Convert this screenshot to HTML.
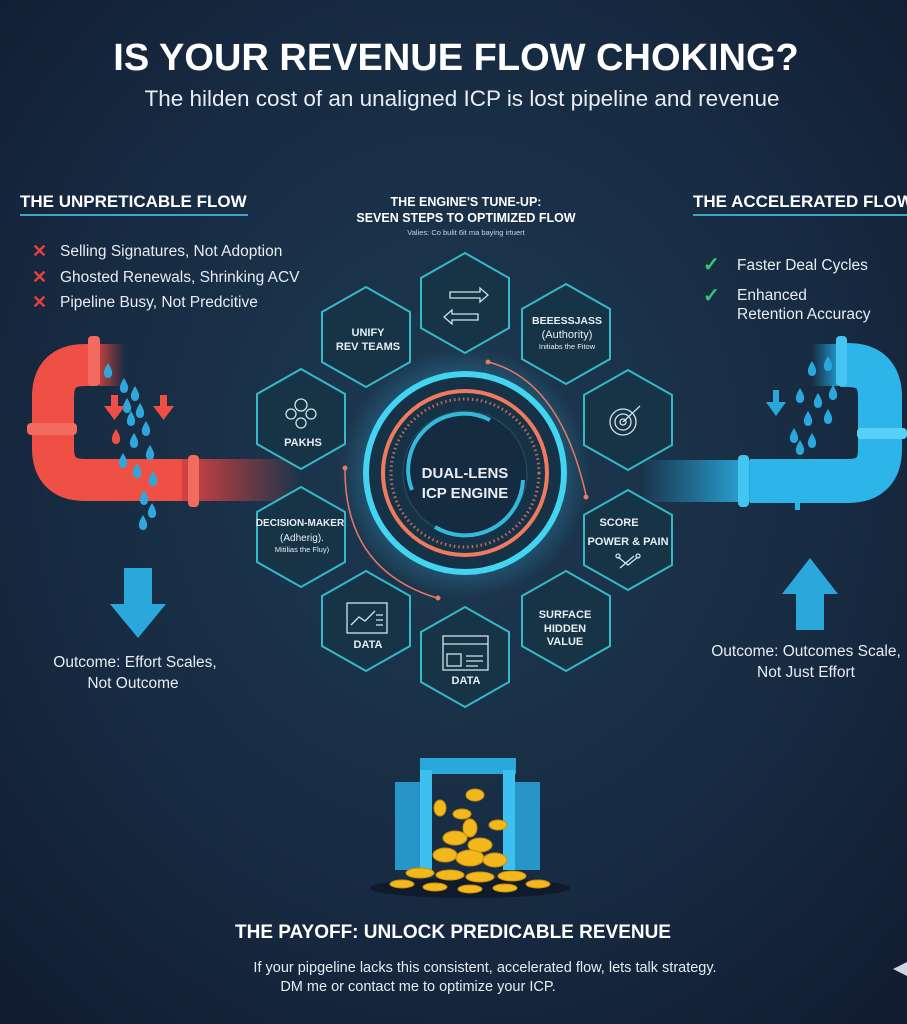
<!DOCTYPE html>
<html><head><meta charset="utf-8"><style>
html,body{margin:0;padding:0;background:#15233a;}
svg{display:block}
text{font-family:"Liberation Sans",sans-serif}
</style></head><body>
<svg width="907" height="1024" viewBox="0 0 907 1024" xmlns="http://www.w3.org/2000/svg">
<defs>
<radialGradient id="bg" cx="50%" cy="45%" r="70%">
<stop offset="0" stop-color="#1d3a52"/><stop offset="0.6" stop-color="#172b42"/><stop offset="1" stop-color="#121d33"/>
</radialGradient>
<linearGradient id="redfade" gradientUnits="userSpaceOnUse" x1="180" x2="300" y1="0" y2="0"><stop offset="0" stop-color="#d9433f"/><stop offset="1" stop-color="#d9433f" stop-opacity="0"/></linearGradient>
<linearGradient id="bluefade" gradientUnits="userSpaceOnUse" x1="750" x2="640" y1="0" y2="0"><stop offset="0" stop-color="#2aa8dc"/><stop offset="1" stop-color="#2aa8dc" stop-opacity="0"/></linearGradient>
<linearGradient id="redtip" gradientUnits="userSpaceOnUse" x1="100" x2="125" y1="0" y2="0"><stop offset="0" stop-color="#b8403c"/><stop offset="1" stop-color="#b8403c" stop-opacity="0"/></linearGradient>
<linearGradient id="bluetip" gradientUnits="userSpaceOnUse" x1="836" x2="812" y1="0" y2="0"><stop offset="0" stop-color="#1f8fc0"/><stop offset="1" stop-color="#1f8fc0" stop-opacity="0"/></linearGradient>
<radialGradient id="glow" cx="50%" cy="50%" r="50%"><stop offset="0.6" stop-color="#3fd0ff" stop-opacity="0.35"/><stop offset="1" stop-color="#3fd0ff" stop-opacity="0"/></radialGradient>
<g id="hex"><polygon points="0,-50 44,-25 44,25 0,50 -44,25 -44,-25" fill="#173447" stroke="#35b9c9" stroke-width="2"/></g>
<path id="drop" d="M0,-7 Q5,1 4,4 A4,4 0 0 1 -4,4 Q-5,1 0,-7z"/>
</defs>
<rect width="907" height="1024" fill="url(#bg)"/>

<text x="456" y="70" font-size="38" font-weight="bold" fill="#fff" text-anchor="middle">IS YOUR REVENUE FLOW CHOKING?</text>
<text x="462" y="106" font-size="22.5" fill="#e6edf3" text-anchor="middle">The hilden cost of an unaligned ICP is lost pipeline and revenue</text>

<text x="20" y="207" font-size="17" font-weight="bold" fill="#fff">THE UNPRETICABLE FLOW</text>
<rect x="20" y="214" width="228" height="2" fill="#3fa6c4"/>
<g font-size="15.5" fill="#e6edf3">
<text x="60" y="256">Selling Signatures, Not Adoption</text>
<text x="60" y="282">Ghosted Renewals, Shrinking ACV</text>
<text x="60" y="307">Pipeline Busy, Not Predcitive</text></g>
<g fill="#e8403c" font-size="18" font-weight="bold"><text x="32" y="257">✕</text><text x="32" y="283">✕</text><text x="32" y="308">✕</text></g>

<text x="693" y="207" font-size="17" font-weight="bold" fill="#fff">THE ACCELERATED FLOW</text>
<rect x="693" y="214" width="214" height="2" fill="#3fa6c4"/>
<g fill="#3ec46d" font-size="20" font-weight="bold"><text x="703" y="271">✓</text><text x="703" y="302">✓</text></g>
<g font-size="15.5" fill="#e6edf3"><text x="737" y="270">Faster Deal Cycles</text><text x="737" y="300">Enhanced</text><text x="737" y="319">Retention Accuracy</text></g>

<text x="466" y="206" font-size="12.5" font-weight="bold" fill="#fff" text-anchor="middle">THE ENGINE'S TUNE-UP:</text>
<text x="466" y="222" font-size="12.5" font-weight="bold" fill="#fff" text-anchor="middle">SEVEN STEPS TO OPTIMIZED FLOW</text>
<text x="466" y="235" font-size="7.5" fill="#c9d3dc" text-anchor="middle">Valies: Co bulit 6it ma baying irtuert</text>

<!-- red pipe -->
<rect x="180" y="459" width="120" height="42" fill="url(#redfade)"/>
<rect x="99" y="344" width="26" height="42" fill="url(#redtip)"/>
<path d="M96,365 L85,365 Q53,365 53,397 L53,448 Q53,480 85,480 L182,480" fill="none" stroke="#ef5046" stroke-width="42"/>
<rect x="27" y="423" width="50" height="12" rx="4" fill="#f26b5e"/>
<rect x="88" y="336" width="12" height="50" rx="4" fill="#f26b5e"/>
<rect x="188" y="455" width="11" height="52" rx="4" fill="#f26b5e"/>
<g fill="#2fa7dc">
<use href="#drop" x="108" y="370"/><use href="#drop" x="124" y="385"/><use href="#drop" x="135" y="393"/>
<use href="#drop" x="127" y="405"/><use href="#drop" x="140" y="410"/><use href="#drop" x="131" y="418"/>
<use href="#drop" x="146" y="428"/><use href="#drop" x="134" y="440"/><use href="#drop" x="150" y="452"/>
<use href="#drop" x="123" y="460"/><use href="#drop" x="137" y="470"/><use href="#drop" x="153" y="478"/>
<use href="#drop" x="144" y="497"/><use href="#drop" x="152" y="510"/><use href="#drop" x="143" y="522"/>
</g>
<use href="#drop" x="116" y="436" fill="#ef5046"/>
<g fill="#ef5046"><rect x="111" y="395" width="7" height="12"/><polygon points="104,406 125,406 114.5,420"/><rect x="160" y="395" width="7" height="12"/><polygon points="153,406 174,406 163.5,420"/></g>

<!-- blue pipe -->
<rect x="640" y="460" width="112" height="42" fill="url(#bluefade)"/>
<rect x="812" y="344" width="26" height="42" fill="url(#bluetip)"/>
<path d="M750,481 L848,481 Q880,481 880,449 L880,397 Q880,365 848,365 L840,365" fill="none" stroke="#2db4e8" stroke-width="44"/>
<rect x="738" y="455" width="11" height="52" rx="4" fill="#45c6f2"/>
<rect x="836" y="336" width="11" height="50" rx="4" fill="#45c6f2"/>
<rect x="857" y="428" width="50" height="11" rx="4" fill="#58d0f5"/>
<rect x="795" y="500" width="5" height="10" fill="#2db4e8"/>
<g fill="#2aa8dc">
<use href="#drop" x="812" y="368"/><use href="#drop" x="828" y="363"/><use href="#drop" x="800" y="395"/>
<use href="#drop" x="818" y="400"/><use href="#drop" x="833" y="392"/><use href="#drop" x="808" y="418"/>
<use href="#drop" x="828" y="416"/><use href="#drop" x="794" y="435"/><use href="#drop" x="812" y="440"/>
<use href="#drop" x="800" y="447"/>
<rect x="773" y="390" width="6" height="12"/><polygon points="766,402 786,402 776,416"/></g>

<g fill="#2aa8dc"><rect x="124" y="568" width="28" height="38"/><polygon points="110,604 166,604 138,638"/>
<rect x="796" y="592" width="28" height="38"/><polygon points="782,594 838,594 810,558"/></g>
<g font-size="15.5" fill="#e6edf3" text-anchor="middle"><text x="135" y="667">Outcome: Effort Scales,</text><text x="133" y="688">Not Outcome</text>
<text x="806" y="656">Outcome: Outcomes Scale,</text><text x="806" y="677">Not Just Effort</text></g>

<circle cx="465" cy="473" r="125" fill="url(#glow)"/>
<circle cx="465" cy="473" r="99" fill="#163246" stroke="#43d4f2" stroke-width="6"/>
<circle cx="465" cy="473" r="82" fill="none" stroke="#f07a5e" stroke-width="4"/>
<circle cx="465" cy="473" r="74" fill="none" stroke="#c46a5c" stroke-width="3" stroke-dasharray="1.5 3"/>
<circle cx="465" cy="473" r="62" fill="#152c40" stroke="#2c4e66" stroke-width="1"/>
<path d="M412,490 A56,56 0 0 1 490,420" fill="none" stroke="#35b9d9" stroke-width="4"/>
<path d="M523,480 A58,58 0 0 1 435,527" fill="none" stroke="#35b9d9" stroke-width="4"/>
<text x="465" y="478" font-size="15" font-weight="bold" fill="#e8eef4" text-anchor="middle">DUAL-LENS</text>
<text x="465" y="498" font-size="15" font-weight="bold" fill="#e8eef4" text-anchor="middle">ICP ENGINE</text>
<path d="M488,362 Q560,380 586,495" fill="none" stroke="#e77a62" stroke-width="1.5"/>
<circle cx="488" cy="362" r="2.5" fill="#e77a62"/><circle cx="586" cy="497" r="2.5" fill="#e77a62"/>
<path d="M345,470 Q345,570 437,598" fill="none" stroke="#e77a62" stroke-width="1.5"/>
<circle cx="345" cy="468" r="2.5" fill="#e77a62"/><circle cx="438" cy="598" r="2.5" fill="#e77a62"/>

<use href="#hex" x="465" y="303"/>
<use href="#hex" x="366" y="337"/>
<use href="#hex" x="566" y="334"/>
<use href="#hex" x="301" y="419"/>
<use href="#hex" x="628" y="420"/>
<use href="#hex" x="301" y="537"/>
<use href="#hex" x="628" y="540"/>
<use href="#hex" x="366" y="621"/>
<use href="#hex" x="465" y="657"/>
<use href="#hex" x="566" y="621"/>
<g stroke="#cfe3ec" stroke-width="1.3" fill="none">
<path d="M450,292 h30 v-4 l8,7 l-8,7 v-4 h-30z"/><path d="M478,314 h-26 v-4 l-8,7 l8,7 v-4 h26z"/>
<circle cx="301" cy="405" r="6"/><circle cx="291" cy="414" r="5"/><circle cx="311" cy="414" r="5"/><circle cx="301" cy="423" r="5"/>
<circle cx="623" cy="422" r="13"/><circle cx="623" cy="422" r="8"/><circle cx="623" cy="422" r="3"/><path d="M623,422 L640,406"/>
<rect x="347" y="603" width="40" height="30"/><path d="M351,625 l8,-8 l6,4 l10,-10"/><path d="M376,615 h7 M376,620 h7 M376,625 h7"/>
<rect x="443" y="636" width="45" height="34"/><path d="M443,644 h45"/><rect x="447" y="654" width="14" height="12"/><path d="M466,656 h17 M466,661 h17 M466,666 h12"/>
<path d="M618,557 l10,8 l10,-8 M620,568 l14,-12"/><circle cx="618" cy="556" r="2"/><circle cx="638" cy="556" r="2"/>
</g>
<g fill="#e6edf3" font-weight="bold" text-anchor="middle" font-size="11">
<text x="368" y="336">UNIFY</text><text x="368" y="350">REV TEAMS</text>
<text x="567" y="324" font-size="10.5">BEEESSJASS</text>
<text x="567" y="338" font-weight="normal">(Authority)</text>
<text x="567" y="349" font-weight="normal" font-size="7.5">Initiabs the Fitow</text>
<text x="303" y="446">PAKHS</text>
<text x="300" y="526" font-size="10">DECISION-MAKER</text>
<text x="302" y="541" font-weight="normal" font-size="10">(Adherig).</text>
<text x="302" y="552" font-weight="normal" font-size="7.5">Mitilias the Fluy)</text>
<text x="619" y="526">SCORE</text><text x="628" y="545">POWER &amp; PAIN</text>
<text x="368" y="648">DATA</text><text x="466" y="684">DATA</text>
<text x="565" y="618">SURFACE</text><text x="565" y="632">HIDDEN</text><text x="565" y="645">VALUE</text>
</g>

<rect x="420" y="758" width="96" height="16" fill="#2aa8dc"/>
<rect x="420" y="770" width="12" height="100" fill="#3cc0ef"/>
<rect x="503" y="770" width="12" height="100" fill="#3cc0ef"/>
<path d="M395,782 h25 v88 h-25z" fill="#2795c7"/>
<path d="M515,782 h25 v88 h-25z" fill="#2795c7"/>
<ellipse cx="470" cy="888" rx="100" ry="10" fill="#0f1a2a"/>
<g fill="#f2b81c" stroke="#c98d0a" stroke-width="1">
<ellipse cx="475" cy="795" rx="9" ry="6"/><ellipse cx="440" cy="808" rx="6" ry="8"/><ellipse cx="462" cy="814" rx="9" ry="5"/>
<ellipse cx="498" cy="825" rx="9" ry="5"/><ellipse cx="470" cy="828" rx="7" ry="9"/>
<ellipse cx="455" cy="838" rx="12" ry="7"/><ellipse cx="480" cy="845" rx="12" ry="7"/><ellipse cx="445" cy="855" rx="12" ry="7"/>
<ellipse cx="470" cy="858" rx="14" ry="8"/><ellipse cx="495" cy="860" rx="12" ry="7"/>
<ellipse cx="420" cy="873" rx="14" ry="5"/><ellipse cx="450" cy="875" rx="14" ry="5"/><ellipse cx="480" cy="877" rx="14" ry="5"/>
<ellipse cx="512" cy="876" rx="14" ry="5"/><ellipse cx="538" cy="884" rx="12" ry="4"/><ellipse cx="402" cy="884" rx="12" ry="4"/>
<ellipse cx="435" cy="887" rx="12" ry="4"/><ellipse cx="470" cy="889" rx="12" ry="4"/><ellipse cx="505" cy="888" rx="12" ry="4"/>
</g>

<text x="453" y="938" font-size="19" font-weight="bold" fill="#fff" text-anchor="middle">THE PAYOFF: UNLOCK PREDICABLE REVENUE</text>
<text x="485" y="972" font-size="14.5" fill="#e6edf3" text-anchor="middle">If your pipgeline lacks this consistent, accelerated flow, lets talk strategy.</text>
<text x="418" y="991" font-size="14.5" fill="#e6edf3" text-anchor="middle">DM me or contact me to optimize your ICP.</text>
<polygon points="907,962 893,969 907,976" fill="#cfd6de"/>
</svg>
</body></html>
